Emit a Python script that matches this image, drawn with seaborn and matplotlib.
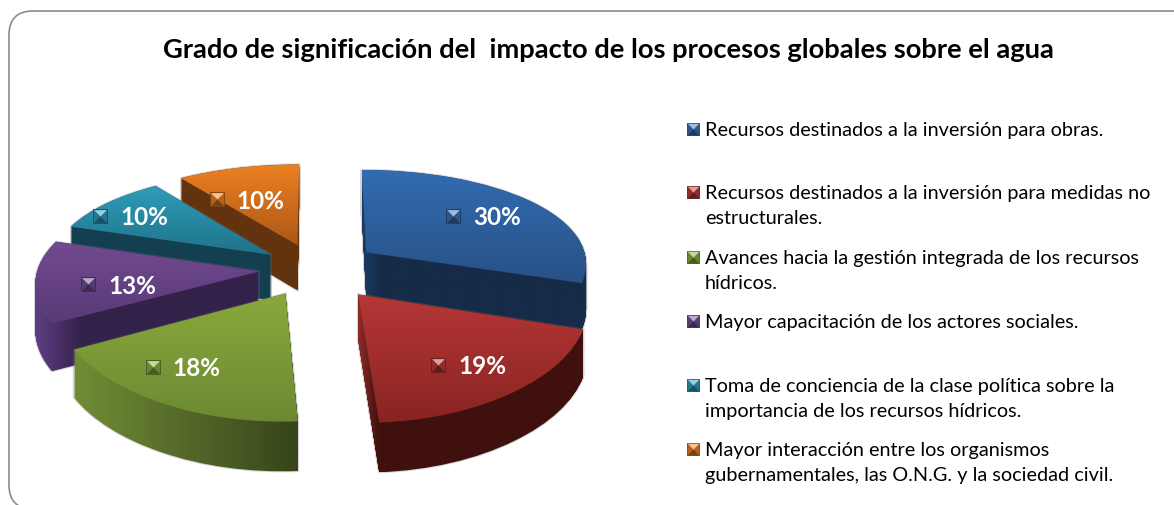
# Pie 3D exploded chart, grado de significacion del impacto sobre el agua
import numpy as np
import seaborn as sns
import matplotlib.pyplot as plt
from matplotlib.patches import FancyBboxPatch, PathPatch
from matplotlib.path import Path

title = 'Grado de significación del  impacto de los procesos globales sobre el agua'
categories = ['Recursos destinados a la inversión para obras.',
              'Recursos destinados a la inversión para medidas no\nestructurales.',
              'Avances hacia la gestión integrada de los recursos\nhídricos.',
              'Mayor capacitación de los actores sociales.',
              'Toma de conciencia de la clase política sobre la\nimportancia de los recursos hídricos.',
              'Mayor interacción entre los organismos\ngubernamentales, las O.N.G. y la sociedad civil.']
values = [30, 19, 18, 13, 10, 10]

# colours of the slices: top of the face, bottom of the face, and the side from left to right
base_colors = ['#3b74b8', '#c0393a', '#8db33f', '#74509a', '#2e9fbe', '#ee8326']
top_colors = [['#326cb1', '#285186'], ['#b53736', '#882422'], ['#89a93c', '#6c8932'],
              ['#714a90', '#593a76'], ['#2f9cba', '#1f7389'], ['#ec8023', '#ad5815']]
side_colors = [['#1d3a5f'] + ['#162b48'] * 12, ['#8a2a28'] + ['#3f100e'] * 12,
               ['#708d34', '#55682a', '#37451a'], ['#5f3f84'] + ['#33224a'] * 5,
               ['#143f50', '#143f50'], ['#63330f', '#63330f']]

explode = [0.29, 0.31, 0.27, 0.25, 0.245, 0.26]
paint_order = [5, 4, 0, 3, 2, 1]  # back slices first
legend_y = [130, 193, 258, 322, 386, 450]
# shift of the percentage labels from where the pie puts them
label_shift = [(0, 0), (4, 5), (-19, 0), (15, 6), (-24, -2), (-8, 10)]

# perspective of the pie plane, everything below is in image pixels
CX, CY = 315, 270
SX, KX = 222, 0.10
TY, KY = 99.9, 0.154
DEPTH = 46


def project(xy, depth=0):
    x, y = np.asarray(xy, dtype=float).T
    return np.column_stack([CX + SX * x / (1 + KX * y),
                            CY - TY * y / (1 + KY * y) + depth * (1 - 0.065 * y)])


def project_path(path, depth=0):
    return Path(project(path.vertices, depth), path.codes)


def gradient(colors, vertical):
    pal = np.array(sns.blend_palette(colors, 64))
    return pal[:, None, :] if vertical else pal[None, :, :]


def bevel(ax, x, y, size, color, z):
    # small square with four sloped sides, like the markers of the original
    shades = sns.blend_palette(['black', color, 'white'], 9)
    ax.scatter([x], [y], s=size, marker='s', color=[shades[3]], edgecolor=shades[2],
               linewidths=0.6, zorder=z)
    tris = [([-1, -1], [1, -1], [0, 0]), ([-1, 1], [1, 1], [0, 0])]
    for tri, c in zip(tris, [shades[2], shades[6]]):
        ax.scatter([x], [y], s=size * 0.8, marker=Path(np.array(tri)[[0, 1, 2, 0]], closed=True),
                   color=[c], linewidths=0, zorder=z)


sns.set_theme(style='white')
plt.rcParams['font.family'] = ['Lato', 'DejaVu Sans']

fig = plt.figure(figsize=(11.74, 5.06), dpi=100, facecolor='white')
ax = fig.add_axes([0, 0, 1, 1])

wedges, _, autotexts = ax.pie(values, explode=explode, startangle=90, counterclock=False,
                              colors=base_colors, pctdistance=0.7,
                              autopct=lambda p: f'{p:.0f}%')
ax.set_aspect('auto')

ax.add_patch(FancyBboxPatch((9, 12), 1300, 498, boxstyle='round,pad=0,rounding_size=24',
                            facecolor='white', edgecolor='#8c8c8c', linewidth=1.2, zorder=1))

for rank, i in enumerate(paint_order):
    z = 10 + rank * 5
    wedge = wedges[i]
    wedge.set_visible(False)
    path = wedge.get_path()
    top = project_path(path)
    side = Path.make_compound_path(*[project_path(path, d) for d in range(0, DEPTH + 1)])

    # soft edge around the slice
    ax.add_patch(PathPatch(side, facecolor='none', edgecolor='#777777', alpha=0.3,
                           linewidth=1.5, zorder=z))

    x0, y0 = side.vertices.min(axis=0)
    x1, y1 = side.vertices.max(axis=0)
    im = ax.imshow(gradient(side_colors[i], False), extent=(x0, x1, y1, y0),
                   aspect='auto', interpolation='bilinear', zorder=z + 1)
    im.set_clip_path(side, ax.transData)

    x0, y0 = top.vertices.min(axis=0)
    x1, y1 = top.vertices.max(axis=0)
    im = ax.imshow(gradient(top_colors[i], True), extent=(x0, x1, y1, y0),
                   aspect='auto', interpolation='bilinear', zorder=z + 2)
    im.set_clip_path(top, ax.transData)

# percentage labels with their little square on the left
for i, t in enumerate(autotexts):
    px, py = project(np.array(t.get_position())[None, :])[0]
    px, py = px + label_shift[i][0], py + label_shift[i][1]
    t.set_position((px + 14, py + 1))
    t.set(color='white', fontsize=17.5, fontweight='bold', ha='center', va='center', zorder=60)
    bevel(ax, px - 30, py, 105, base_colors[i], 60)

# legend at the right
for i, (label, y) in enumerate(zip(categories, legend_y)):
    bevel(ax, 693, y, 85, base_colors[i], 60)
    ax.text(705, y - 8, label, fontsize=14.3, color='black', va='top', ha='left',
            linespacing=1.6, zorder=60)

ax.text(608, 50, title, fontsize=19.7, fontweight='bold', color='black',
        ha='center', va='center', zorder=60)

ax.set_xlim(0, 1174)
ax.set_ylim(506, 0)
ax.axis('off')

plt.savefig('out.png', dpi=100)
